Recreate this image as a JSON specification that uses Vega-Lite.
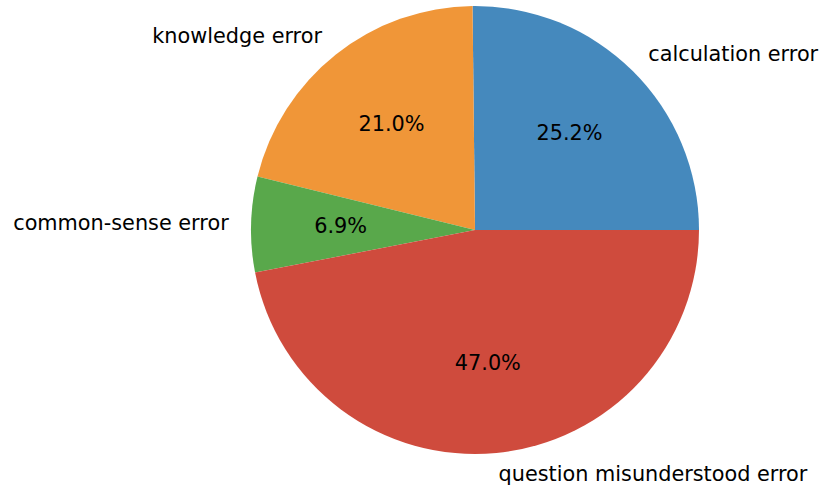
{
  "$schema": "https://vega.github.io/schema/vega-lite/v6.json",
  "autosize": {"type": "none"},
  "width": 450,
  "height": 460,
  "padding": {"left": 250, "top": 0, "right": 121, "bottom": 26},
  "background": "white",
  "config": {"view": {"stroke": null}, "font": "DejaVu Sans"},
  "data": {"values": [
    {"i": 1, "label": "calculation error", "value": 25.2, "pct": "25.2%"},
    {"i": 2, "label": "knowledge error", "value": 21.0, "pct": "21.0%"},
    {"i": 3, "label": "common-sense error", "value": 6.9, "pct": "6.9%"},
    {"i": 4, "label": "question misunderstood error", "value": 47.0, "pct": "47.0%"}
  ]},
  "encoding": {
    "theta": {"field": "value", "type": "quantitative", "stack": true, "scale": {"range": [1.5707963, -4.712389]}},
    "order": {"field": "i", "type": "quantitative"}
  },
  "layer": [
    {
      "mark": {"type": "arc", "radius": 224},
      "encoding": {
        "color": {"field": "label", "type": "nominal", "legend": null, "sort": null,
          "scale": {"domain": ["calculation error", "knowledge error", "common-sense error", "question misunderstood error"],
                    "range": ["#4589bd", "#f09638", "#59a84b", "#cf4b3d"]}}
      }
    },
    {
      "mark": {"type": "text", "radius": 134.4, "fontSize": 20.8, "color": "black"},
      "encoding": {"text": {"field": "pct"}}
    },
    {
      "mark": {"type": "text", "radius": 246.4, "fontSize": 20.8, "color": "black",
        "align": {"expr": "datum.i == 2 || datum.i == 3 ? 'right' : 'left'"}},
      "encoding": {"text": {"field": "label"}}
    }
  ]
}
